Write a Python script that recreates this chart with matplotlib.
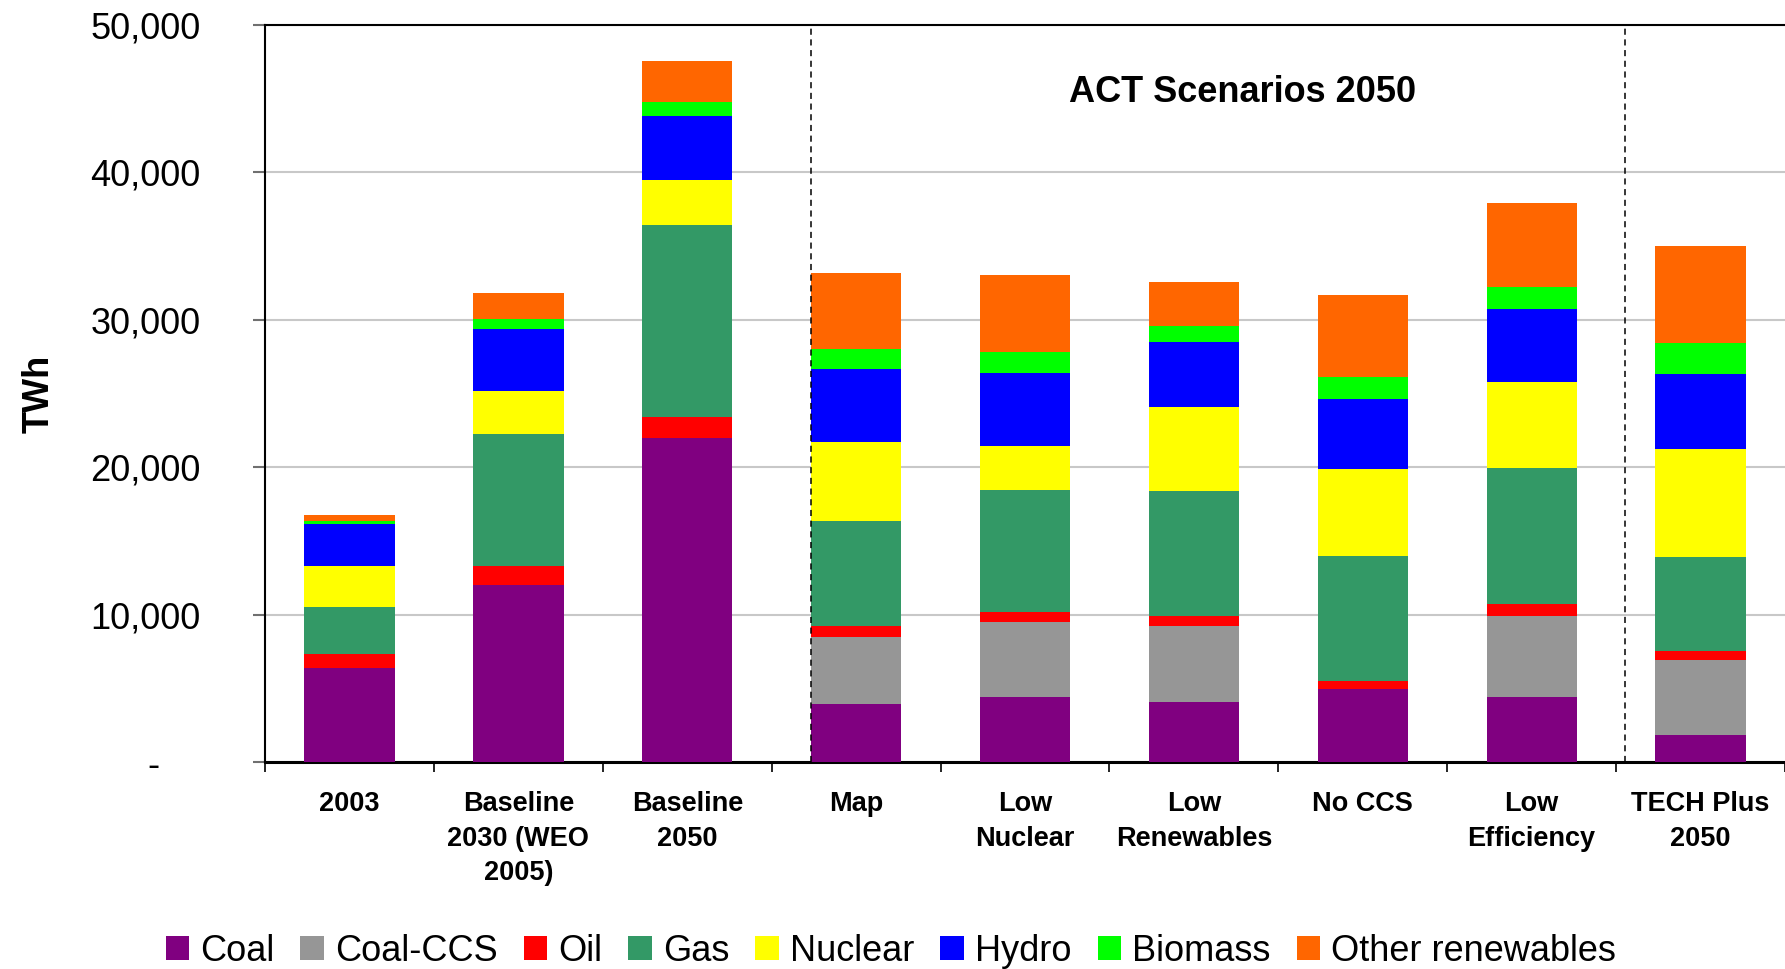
import numpy as np
import matplotlib
matplotlib.use('Agg')
import matplotlib.pyplot as plt
from matplotlib.ticker import FixedLocator, NullFormatter

plt.rcParams['font.family'] = ['Liberation Sans', 'DejaVu Sans']

#%% data (TWh)
scenarios = ['2003', 'Baseline\n2030 (WEO\n2005)', 'Baseline\n2050', 'Map',
             'Low\nNuclear', 'Low\nRenewables', 'No CCS', 'Low\nEfficiency',
             'TECH Plus\n2050']
sources = ['Coal', 'Coal-CCS', 'Oil', 'Gas', 'Nuclear', 'Hydro', 'Biomass',
           'Other renewables']
coal     = [6400, 12000, 21950, 3950, 4400, 4100, 4950, 4400, 1800]
coal_ccs = [0, 0, 0, 4550, 5100, 5150, 0, 5500, 5100]
oil      = [950, 1300, 1450, 750, 700, 650, 550, 850, 600]
gas      = [3150, 8950, 13000, 7100, 8250, 8500, 8500, 9200, 6400]
nuclear  = [2800, 2950, 3100, 5350, 3000, 5700, 5850, 5800, 7350]
hydro    = [2850, 4150, 4300, 4950, 4950, 4400, 4800, 4950, 5050]
biomass  = [230, 700, 950, 1400, 1400, 1100, 1450, 1550, 2150]
other    = [400, 1800, 2800, 5100, 5250, 2950, 5550, 5650, 6550]
yticks = [0, 10000, 20000, 30000, 40000, 50000]
ytick_labels = ['-    ', '10,000', '20,000', '30,000', '40,000', '50,000']

colors = ['#800080', '#969696', '#FF0000', '#339966', '#FFFF00', '#0000FF',
          '#00FF00', '#FF6600']
series = [coal, coal_ccs, oil, gas, nuclear, hydro, biomass, other]

#%% plot
fig = plt.figure(figsize=(17.85, 9.69), dpi=100)
ax = fig.add_axes([0.1485, 0.2136, 0.8515, 0.7606])

x = np.arange(len(scenarios))
bottom = np.zeros(len(scenarios))
for vals, col, name in zip(series, colors, sources):
    vals = np.array(vals, dtype=float)
    ax.bar(x, vals, width=0.535, bottom=bottom, color=col, label=name,
           zorder=3)
    bottom += vals

ax.set_xlim(-0.5, len(scenarios) - 0.5)
ax.set_ylim(0, 50000)
ax.set_yticks(yticks)
ax.set_yticklabels(ytick_labels, fontsize=26)
ax.yaxis.grid(True, color='#c8c8c8', linewidth=1.5, zorder=0)
ax.tick_params(axis='y', direction='out', length=8.6, width=1.5,
               color='#707070', pad=38)

# category boundaries as major ticks, labels on minor ticks
ax.xaxis.set_major_locator(FixedLocator(np.arange(-0.5, len(scenarios), 1.0)))
ax.xaxis.set_major_formatter(NullFormatter())
ax.xaxis.set_minor_locator(FixedLocator(x))
ax.set_xticklabels(scenarios, minor=True, fontsize=19.5, fontweight='bold',
                   linespacing=1.43)
ax.tick_params(axis='x', which='major', direction='out', length=7, width=1.2)
ax.tick_params(axis='x', which='minor', length=0, pad=21)

ax.spines['right'].set_visible(False)
ax.spines['bottom'].set_linewidth(2.2)
ax.spines['left'].set_linewidth(1.5)
ax.spines['top'].set_linewidth(1.5)

ax.set_ylabel('TWh', fontsize=26, fontweight='bold', labelpad=24)

# scenario group separators
for xd in [3 - 0.2675, 7.55]:
    ax.axvline(xd, color='black', linestyle=(0, (4, 3)), linewidth=1.1,
               zorder=4)
ax.text(5.29, 45450, 'ACT Scenarios 2050', fontsize=26, fontweight='bold',
        ha='center', va='center')

fig.legend(loc='center', bbox_to_anchor=(0.499, 0.018), ncol=8,
           frameon=False, fontsize=26, handlelength=0.65, handleheight=0.65,
           handletextpad=0.3, columnspacing=0.73, borderaxespad=0)

fig.savefig('out.png', dpi=100)
